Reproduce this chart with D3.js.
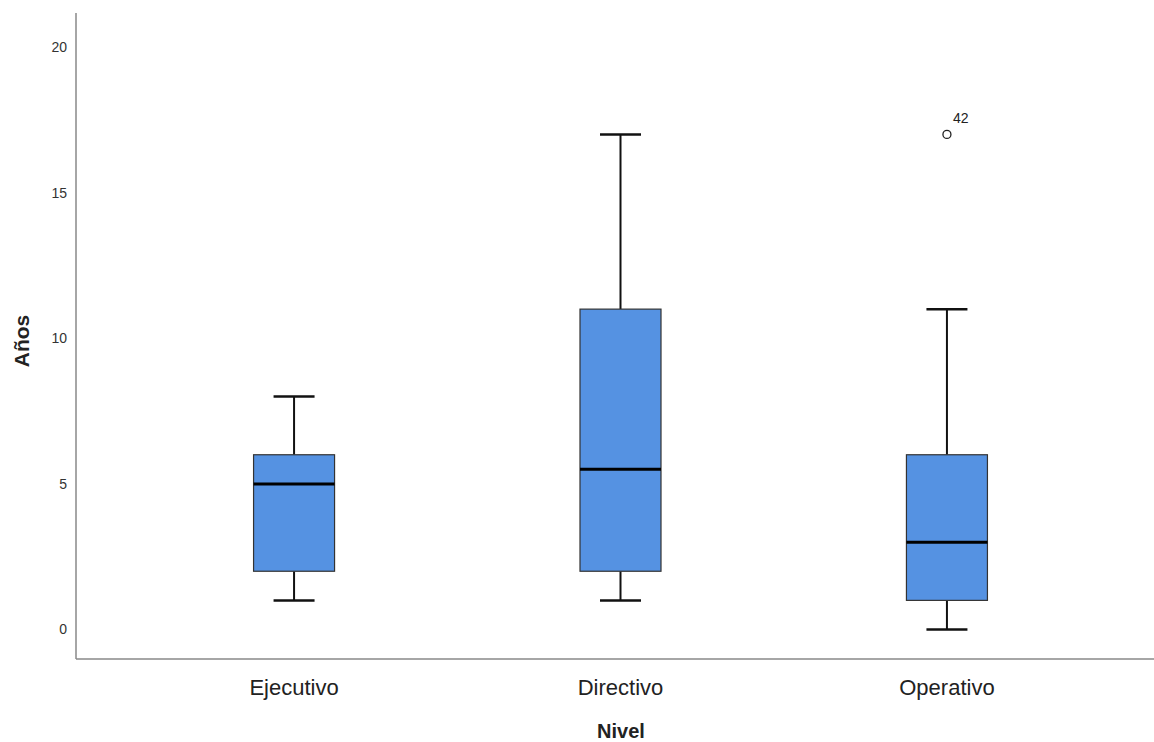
<!DOCTYPE html>
<html>
<head>
<meta charset="utf-8">
<script src="https://cdn.jsdelivr.net/npm/d3@7"></script>
<style>
  html, body { margin: 0; padding: 0; background: #fff; }
  svg { display: block; }
  text { font-family: "Liberation Sans", Arial, sans-serif; }
</style>
</head>
<body>
<svg id="chart" width="1154" height="742"></svg>
<script>
// Years in position, by job level: five-number summaries plus outliers
const categories = ["Ejecutivo", "Directivo", "Operativo"];
const whiskerLow = [1, 1, 0];
const q1 = [2, 2, 1];
const median = [5, 5.5, 3];
const q3 = [6, 11, 6];
const whiskerHigh = [8, 17, 11];
const outliers = [[], [], [{ value: 17, label: "42" }]];
const yTicks = [0, 5, 10, 15, 20];

const svg = d3.select("#chart");
const plotLeft = 76, plotRight = 1165, plotTop = 13, plotBottom = 659;

const x = d3.scalePoint().domain(categories).range([plotLeft, plotRight]).padding(0.668);
const y = d3.scaleLinear().domain([0, 20]).range([629.5, 47]);

const boxW = 81, capW = 41;
const boxFill = "#5592E2";

// Axes
const axisColor = "#888";
svg.append("line").attr("x1", plotLeft).attr("x2", plotLeft).attr("y1", plotTop).attr("y2", plotBottom)
  .attr("stroke", axisColor).attr("stroke-width", 1.5);
svg.append("line").attr("x1", plotLeft).attr("x2", plotRight).attr("y1", plotBottom).attr("y2", plotBottom)
  .attr("stroke", axisColor).attr("stroke-width", 1.5);

svg.append("g").selectAll("text").data(yTicks).join("text")
  .attr("x", 67).attr("y", d => y(d)).attr("dy", "0.35em")
  .attr("text-anchor", "end").attr("font-size", 14).attr("fill", "#333")
  .text(d => d);

svg.append("g").selectAll("text").data(categories).join("text")
  .attr("x", d => x(d)).attr("y", 695)
  .attr("text-anchor", "middle").attr("font-size", 22).attr("fill", "#222")
  .text(d => d);

svg.append("text").attr("x", 621).attr("y", 738)
  .attr("text-anchor", "middle").attr("font-size", 20).attr("font-weight", "bold").attr("fill", "#222")
  .text("Nivel");

svg.append("text").attr("transform", "translate(29,341) rotate(-90)")
  .attr("text-anchor", "middle").attr("font-size", 21).attr("font-weight", "bold").attr("fill", "#222")
  .text("Años");

// Box plots
const g = svg.append("g").selectAll("g").data(categories).join("g");

g.append("line") // upper whisker
  .attr("x1", d => x(d)).attr("x2", d => x(d))
  .attr("y1", (d, i) => y(q3[i])).attr("y2", (d, i) => y(whiskerHigh[i]))
  .attr("stroke", "#111").attr("stroke-width", 2);
g.append("line") // lower whisker
  .attr("x1", d => x(d)).attr("x2", d => x(d))
  .attr("y1", (d, i) => y(q1[i])).attr("y2", (d, i) => y(whiskerLow[i]))
  .attr("stroke", "#111").attr("stroke-width", 2);
g.append("line") // top cap
  .attr("x1", d => x(d) - capW / 2).attr("x2", d => x(d) + capW / 2)
  .attr("y1", (d, i) => y(whiskerHigh[i])).attr("y2", (d, i) => y(whiskerHigh[i]))
  .attr("stroke", "#111").attr("stroke-width", 2.5);
g.append("line") // bottom cap
  .attr("x1", d => x(d) - capW / 2).attr("x2", d => x(d) + capW / 2)
  .attr("y1", (d, i) => y(whiskerLow[i])).attr("y2", (d, i) => y(whiskerLow[i]))
  .attr("stroke", "#111").attr("stroke-width", 2.5);
g.append("rect")
  .attr("x", d => x(d) - boxW / 2).attr("width", boxW)
  .attr("y", (d, i) => y(q3[i])).attr("height", (d, i) => y(q1[i]) - y(q3[i]))
  .attr("fill", boxFill).attr("stroke", "#333").attr("stroke-width", 1.2);
g.append("line") // median
  .attr("x1", d => x(d) - boxW / 2).attr("x2", d => x(d) + boxW / 2)
  .attr("y1", (d, i) => y(median[i])).attr("y2", (d, i) => y(median[i]))
  .attr("stroke", "#000").attr("stroke-width", 3);

// Outliers with case labels
g.each(function (d, i) {
  const sel = d3.select(this);
  outliers[i].forEach(o => {
    sel.append("circle").attr("cx", x(d)).attr("cy", y(o.value)).attr("r", 4)
      .attr("fill", "none").attr("stroke", "#222").attr("stroke-width", 1.3);
    sel.append("text").attr("x", x(d) + 6).attr("y", y(o.value) - 11)
      .attr("font-size", 14).attr("fill", "#222").text(o.label);
  });
});
</script>
</body>
</html>
